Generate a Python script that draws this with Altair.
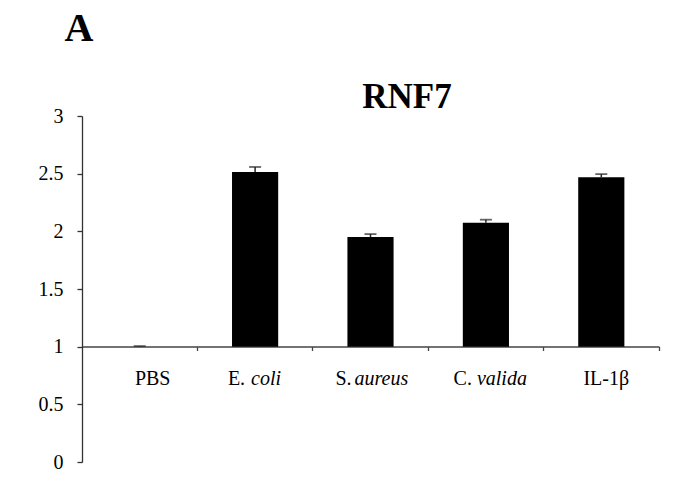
import altair as alt
import pandas as pd

categories = ["PBS", "E. coli", "S. aureus", "C. valida", "IL-1β"]
values = [1.0, 2.515, 1.95, 2.075, 2.47]
errors = [0.005, 0.043, 0.026, 0.026, 0.026]
label_roman = ["PBS", "E.", "S.", "C.", "IL-1β"]
label_italic = ["", "coli", "aureus", "valida", ""]
y_ticks = [0, 0.5, 1, 1.5, 2, 2.5, 3]

# horizontal nudges (px) of the label pieces relative to the bar centre
roman_dx = [13, -10, -19, -14, 5]
italic_dx = [0, -4, -16, -9, 0]

df = pd.DataFrame({
    "cat": categories,
    "value": values,
    "err": errors,
    "roman": label_roman,
    "italic": label_italic,
})

FONT = "Liberation Serif"
FS = 20

x_enc = alt.X(
    "cat:N", sort=categories,
    scale=alt.Scale(paddingInner=0.6, paddingOuter=0.3),
    axis=alt.Axis(title=None, labels=False, bandPosition=1.75, tickSize=4,
                  offset=-115.5, domainColor="#444", tickColor="#444",
                  domainWidth=1.3, tickWidth=1.3),
)
y_enc = alt.Y(
    "value:Q", scale=alt.Scale(domain=[0, 3]),
    axis=alt.Axis(title=None, values=y_ticks, format="~g", grid=False,
                  tickSize=5, labelPadding=14, labelFont=FONT, labelFontSize=FS,
                  labelColor="#000", domainColor="#333", tickColor="#333",
                  domainWidth=1.3, tickWidth=1.3),
)

base = alt.Chart(df)

bars = base.mark_bar(color="#000").encode(x=x_enc, y=y_enc, y2=alt.datum(1))

err_rule = base.transform_calculate(top="datum.value + datum.err").mark_rule(
    color="#222", strokeWidth=1.5
).encode(x=alt.X("cat:N", sort=categories), y="value:Q", y2="top:Q")

err_cap = base.transform_calculate(top="datum.value + datum.err").mark_tick(
    color="#222", size=12, thickness=1.8, orient="horizontal"
).encode(x=alt.X("cat:N", sort=categories), y="top:Q")

layers = [bars, err_rule, err_cap]

for i, c in enumerate(categories):
    sub = base.transform_filter(alt.datum.cat == c)
    if label_italic[i]:
        layers.append(sub.mark_text(font=FONT, fontSize=FS, align="right",
                                    baseline="alphabetic", dy=38, dx=roman_dx[i],
                                    color="#000").encode(
            x=alt.X("cat:N", sort=categories), y=alt.datum(1), text="roman:N"))
        layers.append(sub.mark_text(font=FONT, fontSize=FS, fontStyle="italic",
                                    align="left", baseline="alphabetic", dy=38,
                                    dx=italic_dx[i], color="#000").encode(
            x=alt.X("cat:N", sort=categories), y=alt.datum(1), text="italic:N"))
    else:
        layers.append(sub.mark_text(font=FONT, fontSize=FS, align="center",
                                    baseline="alphabetic", dy=38, dx=roman_dx[i],
                                    color="#000").encode(
            x=alt.X("cat:N", sort=categories), y=alt.datum(1), text="roman:N"))

titles = pd.DataFrame({"t": ["A", "RNF7"]})
panel = alt.Chart(titles).transform_filter(alt.datum.t == "A").mark_text(
    font=FONT, fontSize=40, fontWeight="bold", align="center",
    baseline="alphabetic", color="#000"
).encode(x=alt.value(-3), y=alt.value(-75), text="t:N")
heading = alt.Chart(titles).transform_filter(alt.datum.t == "RNF7").mark_text(
    font=FONT, fontSize=35, fontWeight="bold", align="center",
    baseline="alphabetic", color="#000"
).encode(x=alt.value(325), y=alt.value(-8), text="t:N")
layers += [panel, heading]

chart = alt.layer(*layers).properties(
    width=577, height=346,
    padding={"left": 74, "top": 108, "right": 18, "bottom": 13},
    autosize=alt.AutoSizeParams(type="none"),
).configure_view(stroke=None)

chart.save("out.html", embed_options={"renderer": "svg", "actions": False})
